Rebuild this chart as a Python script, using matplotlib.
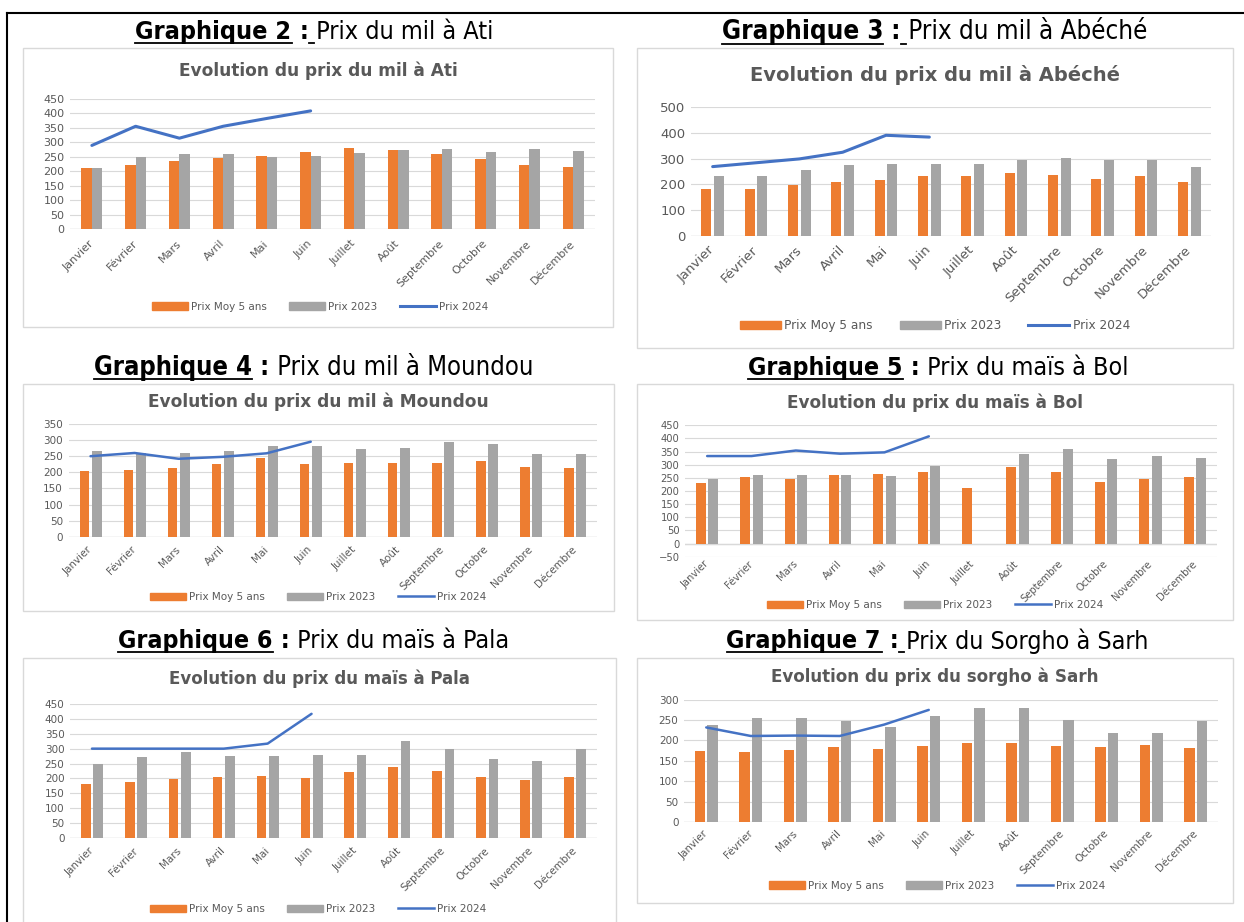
import matplotlib.pyplot as plt
import numpy as np
from matplotlib.patches import Rectangle, Patch
from matplotlib.lines import Line2D

W, H = 1244, 922

mois = ["Janvier", "Février", "Mars", "Avril", "Mai", "Juin", "Juillet", "Août",
        "Septembre", "Octobre", "Novembre", "Décembre"]
series_labels = ["Prix Moy 5 ans", "Prix 2023", "Prix 2024"]

ati_moy5 = [210, 220, 236, 245, 252, 265, 280, 272, 260, 241, 220, 216]
ati_2023 = [211, 249, 258, 258, 249, 252, 263, 272, 276, 265, 275, 270]
ati_2024 = [289, 355, 314, 355, 382, 408]

abeche_moy5 = [183, 183, 199, 209, 216, 231, 234, 243, 236, 222, 231, 209]
abeche_2023 = [234, 234, 255, 275, 281, 281, 281, 295, 301, 295, 295, 266]
abeche_2024 = [269, 284, 299, 325, 391, 384]

moundou_moy5 = [205, 207, 212, 225, 243, 227, 228, 228, 228, 234, 216, 213]
moundou_2023 = [266, 259, 259, 266, 282, 282, 273, 277, 293, 288, 257, 257]
moundou_2024 = [250, 260, 242, 248, 259, 295]

bol_moy5 = [230, 253, 247, 261, 265, 271, 211, 291, 274, 235, 244, 254]
bol_2023 = [246, 261, 261, 261, 257, 295, np.nan, 341, 361, 321, 335, 327]
bol_2024 = [333, 333, 354, 342, 347, 408]

pala_moy5 = [183, 189, 198, 204, 207, 201, 220, 239, 226, 204, 194, 204]
pala_2023 = [249, 272, 290, 275, 275, 280, 280, 326, 300, 266, 257, 300]
pala_2024 = [300, 300, 300, 300, 317, 417]

sarh_moy5 = [174, 172, 176, 184, 180, 186, 195, 194, 186, 184, 190, 181]
sarh_2023 = [239, 255, 255, 248, 234, 261, 280, 280, 250, 218, 218, 247]
sarh_2024 = [232, 211, 212, 211, 239, 275]

ORANGE = "#ED7D31"
GREY = "#A5A5A5"
BLUE = "#4472C4"
TXT = "#595959"
GRID = "#D9D9D9"

fig = plt.figure(figsize=(W / 100, H / 100), dpi=100)
renderer = fig.canvas.get_renderer()


def fx(x):
    return x / W


def fy(y):
    return 1 - y / H


def fit_text(x, y, s, width, size, **kw):
    t = fig.text(fx(x), fy(y), s, fontsize=size, **kw)
    w = t.get_window_extent(renderer).width
    t.set_fontsize(size * width / w)
    return t


charts = [
    dict(title="Evolution du prix du mil à Ati", moy=ati_moy5, p23=ati_2023, p24=ati_2024,
         box=(23, 48, 613, 327), plot=(70, 98.7, 595, 229.3), ylim=(0, 450), ystep=50,
         ty=71, tw=278, ly=306.7, lx=320, fs=8, lfs=7.5, w=0.24, off=0.12, lw=2.2, pad=9),
    dict(title="Evolution du prix du mil à Abéché", moy=abeche_moy5, p23=abeche_2023, p24=abeche_2024,
         box=(637, 48, 1233, 348), plot=(691, 107.3, 1211, 235.7), ylim=(0, 500), ystep=100,
         ty=75, tw=371, ly=325.7, lx=935, fs=9.5, lfs=8.7, w=0.23, off=0.145, lw=2.2, pad=9),
    dict(title="Evolution du prix du mil à Moundou", moy=moundou_moy5, p23=moundou_2023, p24=moundou_2024,
         box=(23, 384, 614, 611), plot=(68.5, 424, 597, 536.7), ylim=(0, 350), ystep=50,
         ty=402, tw=342, ly=597, lx=318, fs=7.5, lfs=7.5, w=0.22, off=0.14, lw=1.8, pad=8),
    dict(title="Evolution du prix du maïs à Bol", moy=bol_moy5, p23=bol_2023, p24=bol_2024,
         box=(637, 384, 1233, 620), plot=(685, 425.3, 1217, 556.7), ylim=(-50, 450), ystep=50,
         ty=403, tw=297, ly=605, lx=935, fs=7.2, lfs=7.5, w=0.22, off=0.14, lw=1.8, pad=4),
    dict(title="Evolution du prix du maïs à Pala", moy=pala_moy5, p23=pala_2023, p24=pala_2024,
         box=(23, 658, 616, 930), plot=(70, 704, 597, 838), ylim=(0, 450), ystep=50,
         ty=679, tw=302, ly=909, lx=318, fs=7.5, lfs=7.5, w=0.22, off=0.14, lw=1.8, pad=8),
    dict(title="Evolution du prix du sorgho à Sarh", moy=sarh_moy5, p23=sarh_2023, p24=sarh_2024,
         box=(637, 658, 1233, 903), plot=(684, 699.7, 1218, 822), ylim=(0, 300), ystep=50,
         ty=677, tw=329, ly=885.7, lx=937, fs=7.5, lfs=7.5, w=0.23, off=0.14, lw=1.8, pad=7),
]

for c in charts:
    l, t, r, b = c["box"]
    fig.patches.append(Rectangle((fx(l), fy(b)), (r - l) / W, (b - t) / H, transform=fig.transFigure,
                                 facecolor="white", edgecolor=GRID, lw=1, zorder=-5))
    pl, pt, pr, pb = c["plot"]
    ax = fig.add_axes([fx(pl), fy(pb), (pr - pl) / W, (pb - pt) / H])
    ax.set_facecolor("none")
    x = np.arange(12)
    moy = np.array(c["moy"], dtype=float)
    p23 = np.array(c["p23"], dtype=float)
    ok = ~np.isnan(p23)
    ax.bar(x - c["off"], moy, width=c["w"], color=ORANGE, zorder=3)
    ax.bar(x[ok] + c["off"], p23[ok], width=c["w"], color=GREY, zorder=3)
    ax.plot(np.arange(len(c["p24"])), c["p24"], color=BLUE, lw=c["lw"], zorder=4,
            solid_capstyle="round")
    ax.set_xlim(-0.5, 11.5)
    ax.set_ylim(*c["ylim"])
    ax.set_yticks(np.arange(c["ylim"][0], c["ylim"][1] + 1, c["ystep"]))
    ax.grid(axis="y", color=GRID, lw=0.8, zorder=0)
    ax.set_axisbelow(True)
    for s in ax.spines.values():
        s.set_visible(False)
    ax.axhline(0, color=GRID, lw=1, zorder=1)
    ax.set_xticks(x)
    ax.set_xticklabels(mois, rotation=45, ha="right", va="center", rotation_mode="anchor")
    ax.tick_params(axis="both", length=0, labelsize=c["fs"], labelcolor=TXT)
    ax.tick_params(axis="x", pad=c["pad"])
    ax.tick_params(axis="y", pad=4)
    fit_text((l + r) / 2, c["ty"], c["title"], c["tw"], 10, ha="center", va="center",
             fontweight="bold", color=TXT)
    handles = [Patch(color=ORANGE), Patch(color=GREY), Line2D([], [], color=BLUE, lw=c["lw"])]
    ax.legend(handles, series_labels, loc="center", bbox_to_anchor=(fx(c["lx"]), fy(c["ly"])),
              bbox_transform=fig.transFigure, ncol=3, frameon=False, fontsize=c["lfs"],
              handlelength=3.4, handleheight=0.7, handletextpad=0.3, columnspacing=2.2,
              labelcolor=TXT)

# headings above each chart
HFONT = ["Liberation Sans Narrow", "DejaVu Sans"]
headings = [
    ("Graphique 2", "Prix du mil à Ati", 315, 32, 360, True),
    ("Graphique 3", "Prix du mil à Abéché", 935, 32, 427, True),
    ("Graphique 4", "Prix du mil à Moundou", 314, 368, 441, False),
    ("Graphique 5", "Prix du maïs à Bol", 939, 368, 382, False),
    ("Graphique 6", "Prix du maïs à Pala", 314, 641, 393, False),
    ("Graphique 7", "Prix du Sorgho à Sarh", 938, 641, 423, True),
]

for bold, rest, cx, cy, width, under_sp in headings:
    size = 15
    parts = [(bold, "bold"), (" :", "bold"), (" " + rest, "normal")]
    texts = [fig.text(0, fy(cy), s, fontsize=size, fontweight=wt, family=HFONT,
                      fontstretch="condensed", va="center")
             for s, wt in parts]
    widths = [tx.get_window_extent(renderer).width for tx in texts]
    scale = width / sum(widths)
    size *= scale
    widths = [w_ * scale for w_ in widths]
    x0 = cx - width / 2
    xs = [x0, x0 + widths[0], x0 + widths[0] + widths[1]]
    for tx, xx in zip(texts, xs):
        tx.set_fontsize(size)
        tx.set_x(fx(xx))
    uy = fy(cy + size * 0.62)
    fig.add_artist(Line2D([fx(x0), fx(x0 + widths[0])], [uy, uy], color="black", lw=1.3))
    if under_sp:
        ux = x0 + widths[0] + widths[1]
        fig.add_artist(Line2D([fx(ux), fx(ux + size * 0.3)], [uy, uy], color="black", lw=1.3))

# page frame lines
fig.add_artist(Line2D([fx(7), 1], [fy(13), fy(13)], color="black", lw=1.5))
fig.add_artist(Line2D([fx(7), fx(7)], [fy(13), 0], color="black", lw=1.5))

fig.savefig("out.png", dpi=100)
